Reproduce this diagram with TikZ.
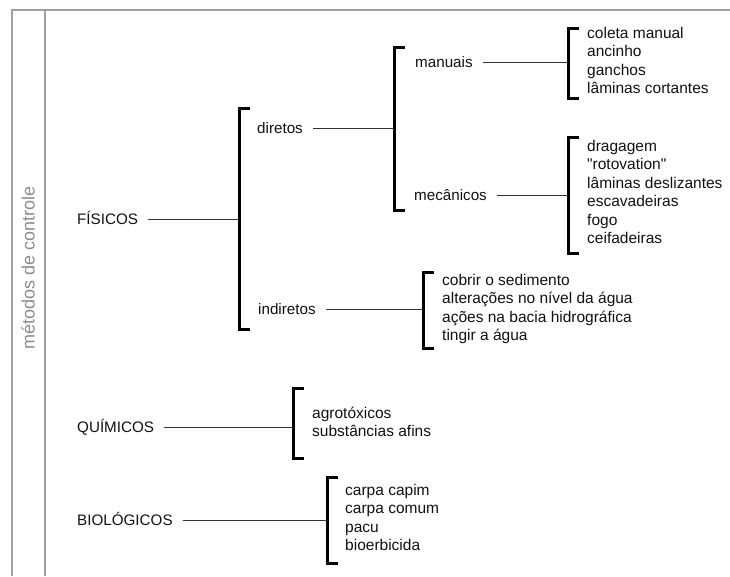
\documentclass[tikz,border=0pt]{standalone}
\usepackage{fontspec}
\setmainfont{Liberation Sans}
\newfontfamily\nomapfont{Liberation Sans}
\definecolor{framegray}{HTML}{A0A0A0}
\definecolor{labelgray}{HTML}{8C8C8C}
\definecolor{txt}{HTML}{111111}
\definecolor{linegray}{HTML}{333333}
\begin{document}
\begin{tikzpicture}[x=1pt,y=-1pt,
  lbl/.style={anchor=base west,inner sep=0pt,text=txt,font=\fontsize{15.2}{18.5}\selectfont},
  lst/.style={anchor=base west,inner sep=0pt,text=txt,align=left,font=\fontsize{15.5}{18.5}\selectfont},
  conn/.style={draw=linegray,line width=1pt,shorten <=10pt},
  brk/.style={draw=black,line width=3pt,line cap=butt,line join=miter},
  frame/.style={draw=framegray,line width=2pt}]
\useasboundingbox (0,0) rectangle (730,576);
% frame
\draw[frame] (12,576) -- (12,10) -- (730,10);
\draw[frame] (45,10) -- (45,576);
\node[rotate=90,text=labelgray,font=\fontsize{18}{20}\selectfont,inner sep=0pt] (title) at (28,268) {métodos de controle};
% brackets (shapes) and their junction coordinates
\draw[brk] (250,108) -- (239,108) -- (239,329) -- (250,329);
\coordinate (bF) at (239,219);
\draw[brk] (405,47) -- (394,47) -- (394,210) -- (405,210);
\coordinate (bD) at (394,128);
\draw[brk] (579,28) -- (568,28) -- (568,98) -- (579,98);
\coordinate (bMa) at (568,62);
\draw[brk] (579,137) -- (568,137) -- (568,253) -- (579,253);
\coordinate (bMe) at (568,195);
\draw[brk] (434,272) -- (423,272) -- (423,348) -- (434,348);
\coordinate (bI) at (423,309);
\draw[brk] (304,388) -- (293,388) -- (293,458) -- (304,458);
\coordinate (bQ) at (293,427);
\draw[brk] (338,477) -- (327,477) -- (327,563) -- (338,563);
\coordinate (bB) at (327,520);
% labels
\node[lbl] (fis) at (77,224) {FÍSICOS};
\node[lbl] (dir) at (257,133) {diretos};
\node[lbl] (ind) at (258,314) {indiretos};
\node[lbl] (man) at (415,67) {manuais};
\node[lbl] (mec) at (414,200) {mecânicos};
\node[lbl] (qui) at (77,432) {QUÍMICOS};
\node[lbl] (bio) at (77,525) {BIOLÓGICOS};
% lists (anchored at the baseline of their last line)
\node[lst] (lman) at (587,93.5) {coleta manual\\ancinho\\ganchos\\lâminas cortantes};
\node[lst] (lmec) at (587,243.5) {dragagem\\{\nomapfont"rotovation"}\\lâminas deslizantes\\escavadeiras\\fogo\\ceifadeiras};
\node[lst] (lind) at (442,340.5) {cobrir o sedimento\\alterações no nível da água\\ações na bacia hidrográfica\\tingir a água};
\node[lst] (lqui) at (312,436.5) {agrotóxicos\\substâncias afins};
\node[lst] (lbio) at (345,550.5) {carpa capim\\carpa comum\\pacu\\bioerbicida};
% connectors
\draw[conn] (fis.east |- bF) -- (bF);
\draw[conn] (dir.east |- bD) -- (bD);
\draw[conn] (ind.east |- bI) -- (bI);
\draw[conn] (man.east |- bMa) -- (bMa);
\draw[conn] (mec.east |- bMe) -- (bMe);
\draw[conn] (qui.east |- bQ) -- (bQ);
\draw[conn] (bio.east |- bB) -- (bB);
\end{tikzpicture}
\end{document}
